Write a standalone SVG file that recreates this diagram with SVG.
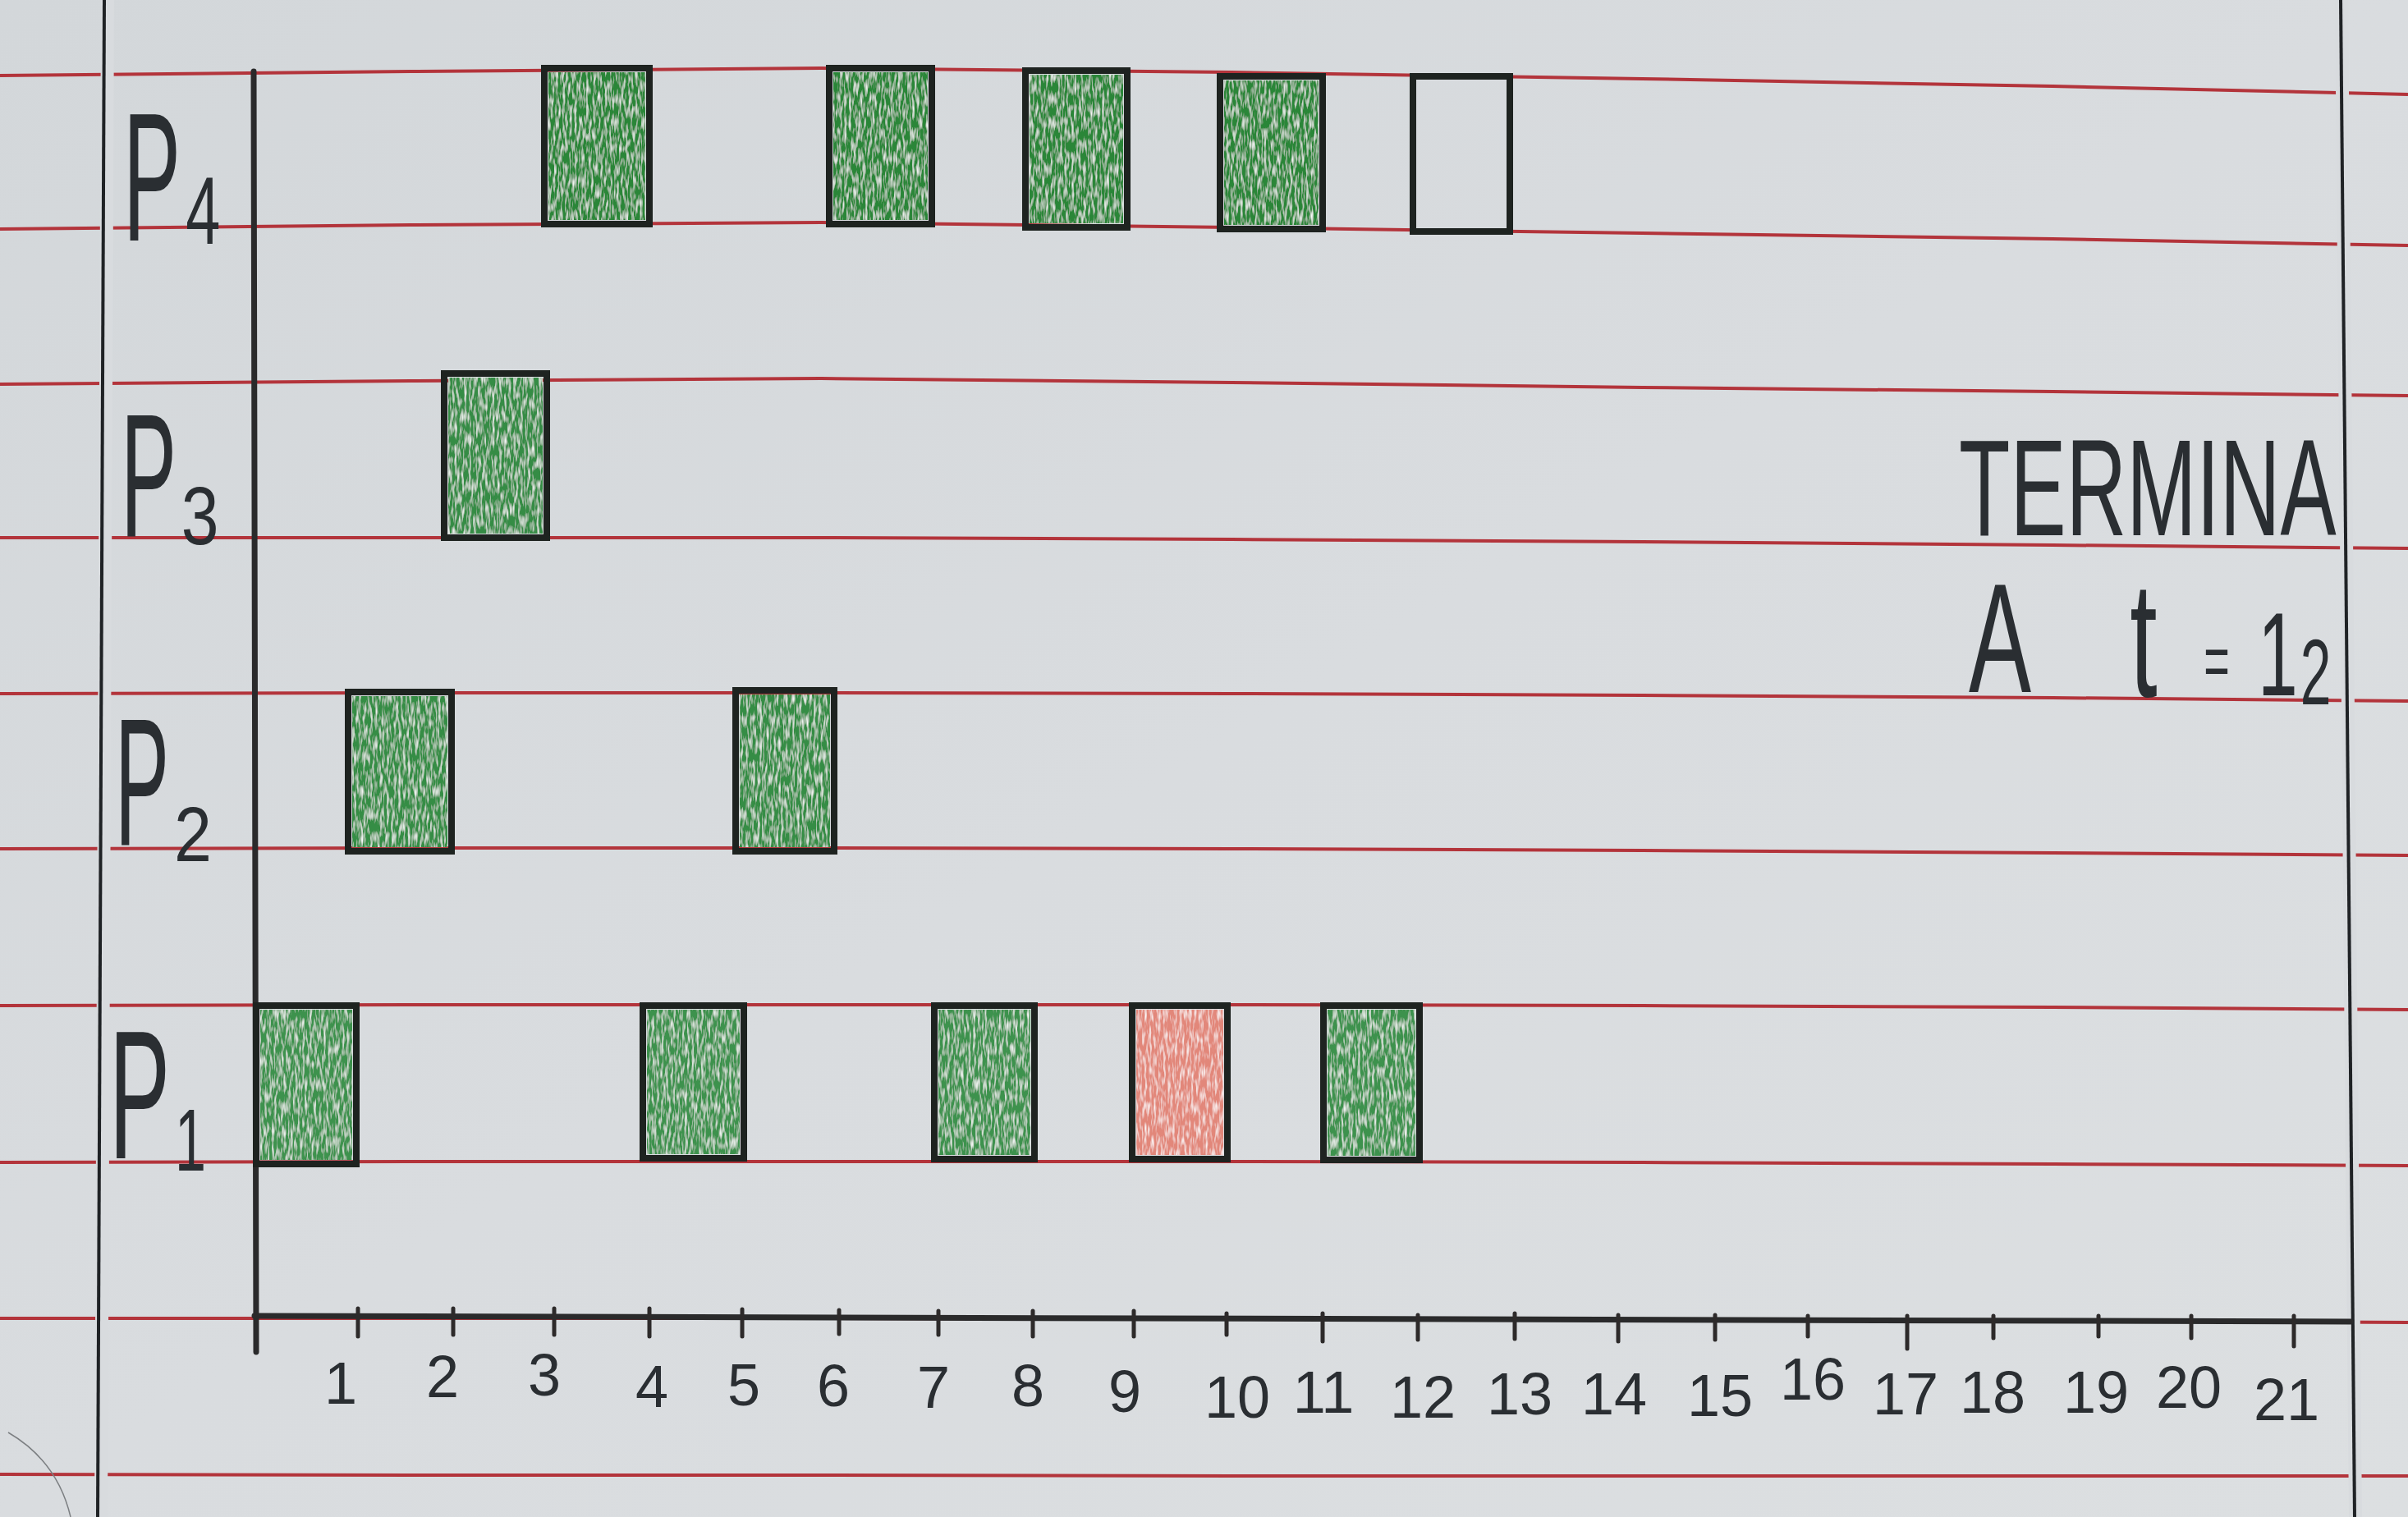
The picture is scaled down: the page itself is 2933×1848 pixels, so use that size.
<svg xmlns="http://www.w3.org/2000/svg" width="2933" height="1848" viewBox="0 0 2933 1848">
<defs>
  <linearGradient id="paperGrad" x1="0" y1="0" x2="1" y2="1">
    <stop offset="0" stop-color="#d3d7da"/>
    <stop offset="0.5" stop-color="#d9dcdf"/>
    <stop offset="1" stop-color="#dcdfe1"/>
  </linearGradient>
  <filter id="pencil" x="0" y="0" width="1" height="1">
    <feTurbulence type="fractalNoise" baseFrequency="0.35 0.07" numOctaves="2" seed="7" result="noise"/>
    <feColorMatrix in="noise" type="matrix" values="0 0 0 0 1  0 0 0 0 1  0 0 0 0 1  0 0 0 -2 1.12" result="white"/>
    <feComposite in="white" in2="SourceGraphic" operator="in" result="spk"/>
    <feMerge><feMergeNode in="SourceGraphic"/><feMergeNode in="spk"/></feMerge>
  </filter>
</defs>
<style>
  .rule { fill: none; stroke: #b3343b; stroke-width: 4; }
  .gap { fill: none; stroke: #d8dbde; stroke-width: 16; }
  .margin { fill: none; stroke: #1f2225; stroke-width: 4; }
  .axis { fill: none; stroke: #2a2a2b; stroke-width: 7; stroke-linecap: round; }
  .tick { fill: none; stroke: #2d2a2a; stroke-width: 5; stroke-linecap: round; }
  .box { fill: none; stroke: #1e2320; stroke-width: 8; stroke-linejoin: miter; }
  .g4 { fill: #2a8638; filter: url(#pencil); }
  .g3 { fill: #358c44; filter: url(#pencil); }
  .g2 { fill: #368d45; filter: url(#pencil); }
  .gp1 { fill: #3e924e; filter: url(#pencil); }
  .red { fill: #e2877a; filter: url(#pencil); }
  .hand { font-family: "Liberation Sans", Arial, sans-serif; fill: #2a2e32; }
  .num { font-family: "Liberation Sans", Arial, sans-serif; fill: #2a2e32; font-size: 72px; text-anchor: middle; }
</style>

<rect id="paper" x="0" y="0" width="2933" height="1848" fill="url(#paperGrad)"/>

<g id="ruled-lines">
  <polyline class="rule" points="0,92 500,87 1000,83 1500,88 2000,96 2500,105 2933,115"/>
  <polyline class="rule" points="0,279 500,274 1000,271 1500,277 2000,284 2500,291 2933,299"/>
  <polyline class="rule" points="0,468 500,464 1000,461 1500,466 2000,472 2500,477 2933,482"/>
  <polyline class="rule" points="0,655 500,655 1000,655 1500,657 2000,660 2500,664 2933,668"/>
  <polyline class="rule" points="0,845 500,844 1000,844 1500,845 2000,847 2500,850 2933,854"/>
  <polyline class="rule" points="0,1034 500,1033 1000,1033 1500,1034 2000,1036 2500,1039 2933,1042"/>
  <polyline class="rule" points="0,1225 500,1224 1000,1224 1500,1224 2000,1225 2500,1227 2933,1230"/>
  <polyline class="rule" points="0,1416 500,1415 1000,1415 1500,1415 2000,1416 2500,1418 2933,1420"/>
  <polyline class="rule" points="0,1606 500,1606 1000,1606 1500,1607 2000,1608 2500,1609 2933,1611"/>
  <polyline class="rule" points="0,1796 500,1797 1000,1797 1500,1798 2000,1798 2500,1798 2933,1798"/>
</g>

<g id="margins">
  <line class="gap" x1="131" y1="0" x2="123" y2="1848"/>
  <line class="gap" x1="2852" y1="0" x2="2869" y2="1848"/>
  <line class="margin" x1="127" y1="0" x2="119" y2="1848"/>
  <line class="margin" x1="2851" y1="0" x2="2868" y2="1848"/>
  <path d="M10,1745 Q70,1780 86,1848" fill="none" stroke="#7c7f82" stroke-width="1.5"/>
</g>

<g id="axes">
  <line class="axis" x1="309" y1="87" x2="312" y2="1647"/>
  <line class="axis" x1="310" y1="1603" x2="2863" y2="1610" stroke-width="8"/>
  <g id="ticks">
    <line class="tick" x1="436" y1="1594" x2="436" y2="1628"/>
    <line class="tick" x1="552" y1="1594" x2="552" y2="1626"/>
    <line class="tick" x1="675" y1="1594" x2="675" y2="1626"/>
    <line class="tick" x1="791" y1="1594" x2="791" y2="1628"/>
    <line class="tick" x1="904" y1="1595" x2="904" y2="1628"/>
    <line class="tick" x1="1022" y1="1596" x2="1022" y2="1625"/>
    <line class="tick" x1="1143" y1="1597" x2="1143" y2="1626"/>
    <line class="tick" x1="1258" y1="1597" x2="1258" y2="1628"/>
    <line class="tick" x1="1381" y1="1597" x2="1381" y2="1628"/>
    <line class="tick" x1="1494" y1="1600" x2="1494" y2="1626"/>
    <line class="tick" x1="1611" y1="1600" x2="1611" y2="1634"/>
    <line class="tick" x1="1727" y1="1602" x2="1727" y2="1632"/>
    <line class="tick" x1="1845" y1="1600" x2="1845" y2="1631"/>
    <line class="tick" x1="1971" y1="1602" x2="1971" y2="1634"/>
    <line class="tick" x1="2089" y1="1602" x2="2089" y2="1632"/>
    <line class="tick" x1="2202" y1="1603" x2="2202" y2="1628"/>
    <line class="tick" x1="2323" y1="1603" x2="2323" y2="1643"/>
    <line class="tick" x1="2428" y1="1603" x2="2428" y2="1630"/>
    <line class="tick" x1="2556" y1="1603" x2="2556" y2="1628"/>
    <line class="tick" x1="2669" y1="1603" x2="2669" y2="1630"/>
    <line class="tick" x1="2794" y1="1603" x2="2794" y2="1640"/>
  </g>
  <g id="tick-labels">
    <text class="num" x="415" y="1710">1</text>
    <text class="num" x="539" y="1702">2</text>
    <text class="num" x="663" y="1700">3</text>
    <text class="num" x="794" y="1714">4</text>
    <text class="num" x="906" y="1712">5</text>
    <text class="num" x="1015" y="1713">6</text>
    <text class="num" x="1137" y="1715">7</text>
    <text class="num" x="1252" y="1713">8</text>
    <text class="num" x="1370" y="1720">9</text>
    <text class="num" x="1507" y="1727">10</text>
    <text class="num" x="1612" y="1721">11</text>
    <text class="num" x="1733" y="1727">12</text>
    <text class="num" x="1851" y="1723">13</text>
    <text class="num" x="1966" y="1723">14</text>
    <text class="num" x="2095" y="1725">15</text>
    <text class="num" x="2208" y="1705">16</text>
    <text class="num" x="2321" y="1723">17</text>
    <text class="num" x="2427" y="1721">18</text>
    <text class="num" x="2553" y="1721">19</text>
    <text class="num" x="2666" y="1715">20</text>
    <text class="num" x="2785" y="1730">21</text>
  </g>
</g>

<g id="row-P4">
  <text class="hand" transform="translate(150,0) scale(0.473,1)"><tspan x="0" y="293" font-size="222">P</tspan><tspan x="161" y="297" font-size="117" textLength="89" lengthAdjust="spacingAndGlyphs">4</tspan></text>
  <g id="P4-t3"><rect class="g4" x="668" y="88" width="118" height="180"/><rect class="box" x="663" y="83" width="128" height="190"/></g>
  <g id="P4-t6"><rect class="g4" x="1015" y="88" width="115" height="180"/><rect class="box" x="1010" y="83" width="125" height="190"/></g>
  <g id="P4-t8"><rect class="g4" x="1254" y="91" width="114" height="181"/><rect class="box" x="1249" y="86" width="124" height="191"/></g>
  <g id="P4-t10"><rect class="g4" x="1491" y="98" width="115" height="176"/><rect class="box" x="1486" y="93" width="125" height="186"/></g>
  <g id="P4-t12"><rect class="box" x="1721" y="93" width="118" height="189"/></g>
</g>

<g id="row-P3">
  <text class="hand" transform="translate(147,0) scale(0.4765,1)"><tspan x="0" y="653" font-size="214">P</tspan><tspan x="155" y="663" font-size="100" textLength="96" lengthAdjust="spacingAndGlyphs">3</tspan></text>
  <g id="P3-t2"><rect class="g3" x="546" y="460" width="115" height="190"/><rect class="box" x="541" y="455" width="125" height="200"/></g>
</g>

<g id="row-P2">
  <text class="hand" transform="translate(140,0) scale(0.45,1)"><tspan x="0" y="1029" font-size="220">P</tspan><tspan x="160" y="1049" font-size="94" textLength="102" lengthAdjust="spacingAndGlyphs">2</tspan></text>
  <g id="P2-t1"><rect class="g2" x="429" y="848" width="116" height="184"/><rect class="box" x="424" y="843" width="126" height="194"/></g>
  <g id="P2-t5"><rect class="g2" x="901" y="846" width="110" height="186"/><rect class="box" x="896" y="841" width="120" height="196"/></g>
</g>

<g id="row-P1">
  <text class="hand" transform="translate(133,0) scale(0.5,1)"><tspan x="0" y="1411" font-size="222">P</tspan><tspan x="160" y="1426" font-size="107" textLength="76" lengthAdjust="spacingAndGlyphs">1</tspan></text>
  <g id="P1-t0"><rect class="gp1" x="317" y="1230" width="112" height="183"/><rect class="box" x="312" y="1225" width="122" height="193"/></g>
  <g id="P1-t4"><rect class="gp1" x="788" y="1230" width="113" height="176"/><rect class="box" x="783" y="1225" width="123" height="186"/></g>
  <g id="P1-t7"><rect class="gp1" x="1143" y="1230" width="112" height="177"/><rect class="box" x="1138" y="1225" width="122" height="187"/></g>
  <g id="P1-t9"><rect class="red" x="1384" y="1230" width="106" height="177"/><rect class="box" x="1379" y="1225" width="116" height="187"/></g>
  <g id="P1-t11"><rect class="gp1" x="1617" y="1230" width="107" height="178"/><rect class="box" x="1612" y="1225" width="117" height="188"/></g>
</g>

<g id="note">
  <text class="hand" transform="translate(2386,652) scale(0.608,1)" x="0" y="0" font-size="168">TERMINA</text>
  <text class="hand" transform="translate(2398,0) scale(0.6,1)"><tspan x="0" y="843" font-size="190">A </tspan><tspan x="327" y="848" font-size="200">t</tspan><tspan x="477" y="836" font-size="90">=</tspan><tspan x="587" y="847" font-size="145">1</tspan><tspan x="673" y="858" font-size="113">2</tspan></text>
</g>
</svg>
